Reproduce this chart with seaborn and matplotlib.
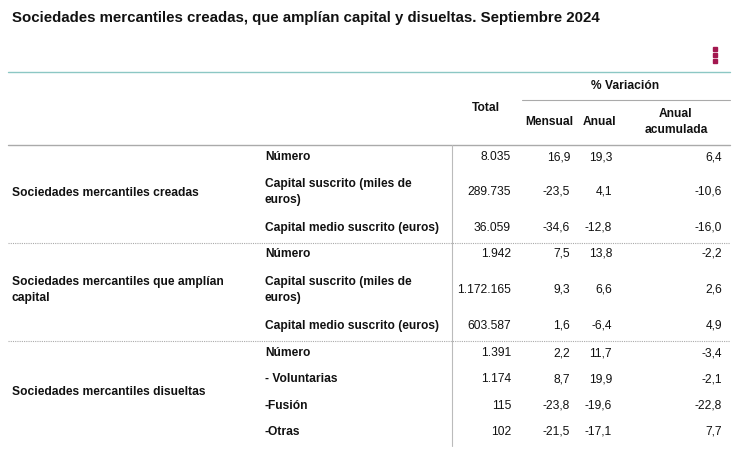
import matplotlib
matplotlib.use("Agg")
import matplotlib.pyplot as plt
import seaborn as sns

sns.set_style("white")
plt.rcParams["font.family"] = "Liberation Sans"

title = "Sociedades mercantiles creadas, que amplían capital y disueltas. Septiembre 2024"
groups = ["Sociedades mercantiles creadas",
          "Sociedades mercantiles que amplían\ncapital",
          "Sociedades mercantiles disueltas"]
group_rows = [3, 3, 4]
row_labels = ["Número", "Capital suscrito (miles de\neuros)", "Capital medio suscrito (euros)",
              "Número", "Capital suscrito (miles de\neuros)", "Capital medio suscrito (euros)",
              "Número", "- Voluntarias", "-Fusión", "-Otras"]
total = ["8.035", "289.735", "36.059", "1.942", "1.172.165", "603.587",
         "1.391", "1.174", "115", "102"]
mensual = ["16,9", "-23,5", "-34,6", "7,5", "9,3", "1,6", "2,2", "8,7", "-23,8", "-21,5"]
anual = ["19,3", "4,1", "-12,8", "13,8", "6,6", "-6,4", "11,7", "19,9", "-19,6", "-17,1"]
acumulada = ["6,4", "-10,6", "-16,0", "-2,2", "2,6", "4,9", "-3,4", "-2,1", "-22,8", "7,7"]

row_y = [157, 192, 228, 254, 290, 326, 353, 379, 406, 432]
group_y = [193, 290, 392]

fig = plt.figure(figsize=(7.37, 4.5), dpi=100)
ax = fig.add_axes([0, 0, 1, 1])
ax.set_xlim(0, 737)
ax.set_ylim(450, 0)
ax.axis("off")

fs = 8.65
ax.text(12, 18, title, fontsize=10.8, fontweight="bold", va="center", color="#111")
for dy in (49, 55, 61):
    ax.plot(715, dy, "s", ms=2.8, color="#a3174f")

ax.plot([8, 730], [72, 72], color="#8cc7c4", lw=1)
ax.plot([522, 730], [100, 100], color="#aaa", lw=0.8)
ax.plot([8, 730], [145, 145], color="#aaa", lw=1)
ax.plot([452, 452], [145, 446], color="#bbb", lw=0.8)
for sy in (243, 341):
    ax.plot([8, 730], [sy, sy], color="#aaa", lw=0.8, ls=(0, (1, 1)))

hk = dict(fontsize=fs, fontweight="bold", ha="center", va="center", color="#111")
ax.text(625, 86, "% Variación", **hk)
ax.text(486, 108, "Total", **hk)
ax.text(549, 122, "Mensual", **hk)
ax.text(600, 122, "Anual", **hk)
ax.text(676, 122, "Anual\nacumulada", linespacing=1.5, **hk)

for g, gy in zip(groups, group_y):
    ax.text(12, gy, g, fontsize=fs, fontweight="bold", va="center", linespacing=1.5, color="#111")

for i, y in enumerate(row_y):
    ax.text(265, y, row_labels[i], fontsize=fs, fontweight="bold", va="center",
            linespacing=1.5, color="#111")
    for xr, col in ((511, total), (570, mensual), (612, anual), (722, acumulada)):
        ax.text(xr, y, col[i], fontsize=fs, ha="right", va="center", color="#111")

fig.savefig("out.png", dpi=100)
